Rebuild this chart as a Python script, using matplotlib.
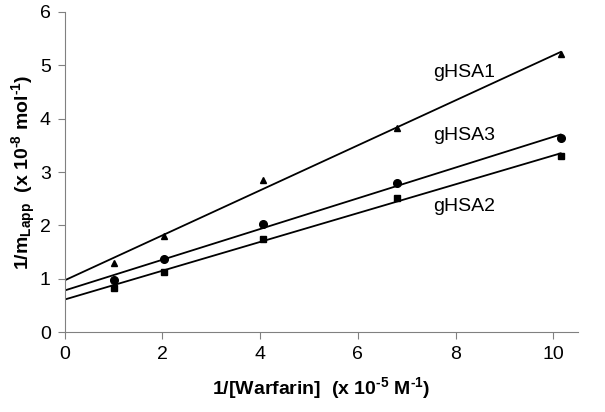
import matplotlib
matplotlib.use("Agg")
import matplotlib.pyplot as plt
import numpy as np

plt.rcParams['font.family'] = 'Liberation Sans'
plt.rcParams['mathtext.fontset'] = 'custom'
plt.rcParams['mathtext.rm'] = 'Liberation Sans:bold'
plt.rcParams['mathtext.bf'] = 'Liberation Sans:bold'
plt.rcParams['mathtext.default'] = 'bf'

# data
x = [1.0, 2.03, 4.05, 6.8, 10.15]
gHSA1 = [1.3, 1.8, 2.85, 3.83, 5.22]
gHSA3 = [0.98, 1.37, 2.03, 2.8, 3.63]
gHSA2 = [0.83, 1.13, 1.75, 2.52, 3.3]

names = ['gHSA1', 'gHSA3', 'gHSA2']
series = [gHSA1, gHSA3, gHSA2]
markers = ['^', 'o', 's']
msizes = [4.5, 5.5, 5]
# trend lines (intercept, slope) as drawn
intercepts = [0.97, 0.78, 0.61]
slopes = [0.4217, 0.288, 0.27]
label_pos = [(8.18, 4.86), (8.18, 3.68), (8.18, 2.35)]

fig = plt.figure(figsize=(6.05, 4.12), dpi=100)
ax = fig.add_axes([0.107, 0.194, 0.848, 0.777])

xl = np.array([0, x[-1]])
for ys, m, ms, b, k, nm, (lx, ly) in zip(series, markers, msizes, intercepts, slopes, names, label_pos):
    ax.plot(x, ys, linestyle='none', marker=m, markersize=ms, color='black')
    ax.plot(xl, b + k * xl, color='black', linewidth=1.3)
    ax.text(lx, ly, nm, fontsize=14, ha='center', va='center')

ax.set_xlim(0, 10.5)
ax.set_ylim(0, 6)
ax.set_xticks([0, 2, 4, 6, 8, 10])
ax.set_yticks([0, 1, 2, 3, 4, 5, 6])
ax.spines['top'].set_visible(False)
ax.spines['right'].set_visible(False)
for s in ['left', 'bottom']:
    ax.spines[s].set_color('#808080')
ax.tick_params(direction='out', length=5, color='#808080', labelsize=14, pad=5)

ax.set_xlabel(r'1/[Warfarin]  (x 10$^{\text{-}5}$ M$^{\text{-}1}$)', fontsize=14, fontweight='bold', labelpad=9)
ax.set_ylabel(r'1/m$_{Lapp}$  (x 10$^{\text{-}8}$ mol$^{\text{-}1}$)', fontsize=14, fontweight='bold', labelpad=1)

fig.savefig('out.png', dpi=100)
